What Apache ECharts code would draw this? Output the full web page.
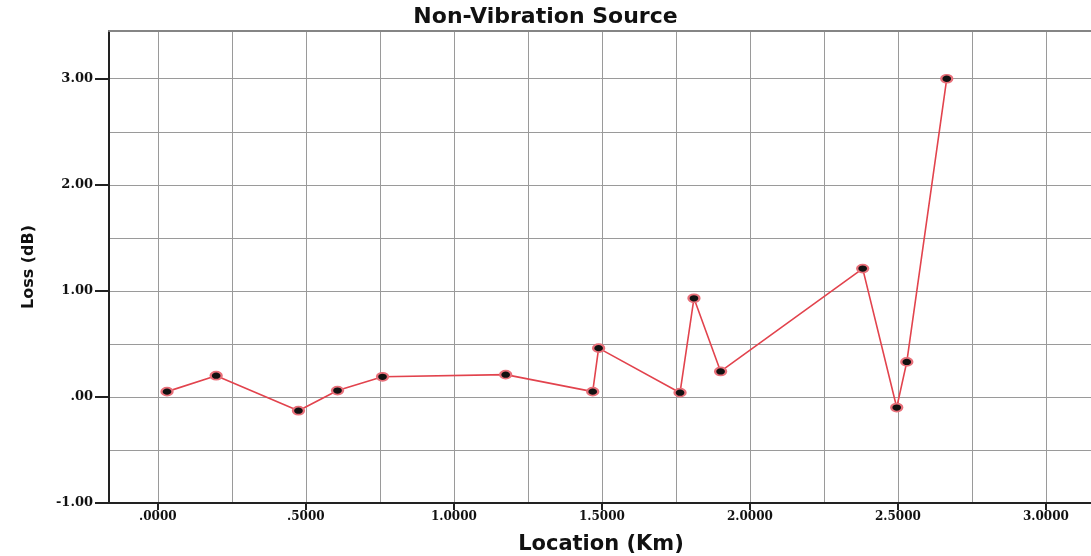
<!DOCTYPE html>
<html>
<head>
<meta charset="utf-8">
<script src="https://cdn.jsdelivr.net/npm/echarts@6.0.0/dist/echarts.min.js"></script>
<style>
html,body{margin:0;padding:0;background:#fff;}
#chart{width:1091px;height:556px;}
</style>
</head>
<body>
<div id="chart"></div>
<script>
// ---- data ----
const locationKm = [0.031, 0.197, 0.475, 0.607, 0.759, 1.175, 1.469, 1.489, 1.764, 1.811, 1.901, 2.381, 2.496, 2.530, 2.665];
const lossDb     = [0.05, 0.20, -0.13, 0.06, 0.19, 0.21, 0.05, 0.46, 0.04, 0.93, 0.24, 1.21, -0.10, 0.33, 3.00];

const xTickValues = [0, 0.5, 1.0, 1.5, 2.0, 2.5, 3.0];
const xTickLabels = ['.0000', '.5000', '1.0000', '1.5000', '2.0000', '2.5000', '3.0000'];
const xMinorValues = [0.25, 0.75, 1.25, 1.75, 2.25, 2.75];
const yTickValues = [-1, 0, 1, 2, 3];
const yTickLabels = ['-1.00', '.00', '1.00', '2.00', '3.00'];
const yMinorValues = [-0.5, 0.5, 1.5, 2.5];

const titleText = 'Non-Vibration Source';
const xName = 'Location (Km)';
const yName = 'Loss (dB)';

const points = locationKm.map((x, i) => [x, lossDb[i]]);

const chart = echarts.init(document.getElementById('chart'), null, {renderer: 'canvas'});
const gridCol = '#9a9a9a';
const tickFontX = {fontFamily: 'DejaVu Serif', fontWeight: 'bold', fontSize: 12, color: '#111'};
const tickFontY = {fontFamily: 'DejaVu Serif', fontWeight: 'bold', fontSize: 13, color: '#111'};

chart.setOption({
  animation: false,
  backgroundColor: '#fff',
  title: {
    text: titleText,
    left: 'center',
    top: 6,
    padding: 0,
    textStyle: {fontFamily: 'DejaVu Sans', fontWeight: 'bold', fontSize: 22, color: '#111'}
  },
  grid: {left: 109, right: -2, top: 31, bottom: 53, containLabel: false, outerBoundsMode: 'none'},
  xAxis: [{
    type: 'value',
    min: -0.165, max: 3.159,
    position: 'bottom',
    name: xName,
    nameLocation: 'middle',
    nameGap: 31,
    nameTextStyle: {fontFamily: 'DejaVu Sans', fontWeight: 'bold', fontSize: 21, color: '#111'},
    axisLine: {show: true, onZero: false, lineStyle: {color: '#222', width: 2}},
    axisTick: {show: true, length: 7, customValues: xTickValues, lineStyle: {color: '#222', width: 2}},
    axisLabel: Object.assign({margin: 8, customValues: xTickValues,
      formatter: v => { const i = xTickValues.findIndex(t => Math.abs(t - v) < 1e-6); return i >= 0 ? xTickLabels[i] : ''; }}, tickFontX),
    splitLine: {show: true, lineStyle: {color: gridCol, width: 1}}
  }, {
    type: 'value',
    min: -0.165, max: 3.159,
    position: 'top',
    axisLine: {show: true, onZero: false, lineStyle: {color: '#858585', width: 2}},
    axisTick: {show: false, customValues: xMinorValues},
    axisLabel: {show: false},
    splitLine: {show: true, lineStyle: {color: gridCol, width: 1}}
  }],
  yAxis: [{
    type: 'value',
    min: -1, max: 3.45,
    position: 'left',
    name: yName,
    nameLocation: 'middle',
    nameGap: 72,
    nameRotate: 90,
    nameTextStyle: {fontFamily: 'DejaVu Sans', fontWeight: 'bold', fontSize: 16, color: '#111'},
    axisLine: {show: true, onZero: false, lineStyle: {color: '#222', width: 2}},
    axisTick: {show: true, length: 14, customValues: yTickValues, lineStyle: {color: '#222', width: 2}},
    axisLabel: Object.assign({margin: 16, customValues: yTickValues,
      formatter: v => { const i = yTickValues.findIndex(t => Math.abs(t - v) < 1e-6); return i >= 0 ? yTickLabels[i] : ''; }}, tickFontY),
    splitLine: {show: true, lineStyle: {color: gridCol, width: 1}}
  }, {
    type: 'value',
    min: -1, max: 3.45,
    position: 'right',
    axisLine: {show: false},
    axisTick: {show: false, customValues: yMinorValues},
    axisLabel: {show: false},
    splitLine: {show: true, lineStyle: {color: gridCol, width: 1}}
  }],
  series: [{
    type: 'line',
    xAxisIndex: 0,
    yAxisIndex: 0,
    data: points,
    symbol: 'circle',
    symbolSize: [11, 8],
    lineStyle: {color: '#e2434d', width: 1.6},
    itemStyle: {color: '#111', borderColor: '#e8707a', borderWidth: 2},
    emphasis: {disabled: true},
    z: 5
  }]
});
</script>
</body>
</html>
